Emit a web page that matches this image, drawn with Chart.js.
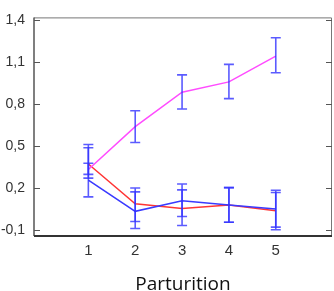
<!DOCTYPE html>
<html>
<head>
<meta charset="utf-8">
<script src="https://cdn.jsdelivr.net/npm/chart.js@4"></script>
<style>
  html, body { margin: 0; padding: 0; background: #fff; }
</style>
</head>
<body>
<canvas id="chart" width="334" height="291"></canvas>
<script>
const parturition = [1, 2, 3, 4, 5];

const magentaMean = [0.335, 0.64, 0.886, 0.96, 1.144];
const magentaLow = [0.30, 0.527, 0.766, 0.84, 1.025];
const magentaHigh = [0.513, 0.754, 1.01, 1.085, 1.275];

const redMean = [0.374, 0.09, 0.057, 0.081, 0.041];
const redLow = [0.273, -0.037, -0.065, -0.042, -0.095];
const redHigh = [0.49, 0.203, 0.189, 0.205, 0.17];

const blueMean = [0.259, 0.036, 0.111, 0.081, 0.053];
const blueLow = [0.139, -0.086, -0.001, -0.042, -0.077];
const blueHigh = [0.379, 0.175, 0.231, 0.205, 0.187];

const yTicks = [-0.1, 0.2, 0.5, 0.8, 1.1, 1.4];
const yTickLabels = ['-0,1', '0,2', '0,5', '0,8', '1,1', '1,4'];

function points(values) {
    return parturition.map((p, i) => ({ x: p, y: values[i] }));
}

// blue error bars with caps, drawn on top of the lines
const errorBars = {
    id: 'errorBars',
    afterDatasetsDraw(chart) {
        const { ctx, scales: { x, y } } = chart;
        ctx.save();
        ctx.strokeStyle = 'rgba(50, 50, 255, 0.8)';
        ctx.lineWidth = 1.6;
        chart.data.datasets.forEach(ds => {
            ds.data.forEach((p, i) => {
                const px = x.getPixelForValue(p.x);
                const top = y.getPixelForValue(ds.high[i]);
                const bot = y.getPixelForValue(ds.low[i]);
                ctx.beginPath();
                ctx.moveTo(px, top);
                ctx.lineTo(px, bot);
                ctx.moveTo(px - 5, top);
                ctx.lineTo(px + 5, top);
                ctx.moveTo(px - 5, bot);
                ctx.lineTo(px + 5, bot);
                ctx.stroke();
            });
        });
        ctx.restore();
    }
};

// box frame with inward y ticks on both sides
const frame = {
    id: 'frame',
    afterDraw(chart) {
        const { ctx, chartArea: a, scales: { y } } = chart;
        ctx.save();
        ctx.strokeStyle = '#777';
        ctx.lineWidth = 1;
        ctx.beginPath();
        ctx.moveTo(a.left, a.top + 0.5);
        ctx.lineTo(a.right - 0.5, a.top + 0.5);
        ctx.lineTo(a.right - 0.5, a.bottom);
        ctx.stroke();
        ctx.strokeStyle = '#555';
        ctx.lineWidth = 1.5;
        ctx.beginPath();
        ctx.moveTo(a.left, a.top);
        ctx.lineTo(a.left, a.bottom);
        ctx.stroke();
        ctx.strokeStyle = '#333';
        ctx.lineWidth = 2;
        ctx.beginPath();
        ctx.moveTo(a.left, a.bottom);
        ctx.lineTo(a.right, a.bottom);
        ctx.stroke();
        ctx.strokeStyle = '#555';
        ctx.lineWidth = 1;
        yTicks.forEach(v => {
            const py = Math.round(y.getPixelForValue(v)) + 0.5;
            ctx.beginPath();
            ctx.moveTo(a.left, py);
            ctx.lineTo(a.left + 6, py);
            ctx.moveTo(a.right, py);
            ctx.lineTo(a.right - 6, py);
            ctx.stroke();
        });
        ctx.restore();
    }
};

const ctx = document.getElementById('chart').getContext('2d');
const myChart = new Chart(ctx, {
    type: 'line',
    data: {
        datasets: [{
            label: 'magenta',
            data: points(magentaMean),
            low: magentaLow,
            high: magentaHigh,
            borderColor: '#ff4cff',
            borderWidth: 1.5,
            pointRadius: 0
        }, {
            label: 'blue',
            data: points(blueMean),
            low: blueLow,
            high: blueHigh,
            borderColor: '#3a3aff',
            borderWidth: 1.5,
            pointRadius: 0
        }, {
            label: 'red',
            data: points(redMean),
            low: redLow,
            high: redHigh,
            borderColor: '#ff3535',
            borderWidth: 1.5,
            pointRadius: 0
        }]
    },
    options: {
        responsive: false,
        animation: false,
        layout: {
            padding: { top: 14, right: 2, left: 0, bottom: 0 }
        },
        plugins: {
            legend: { display: false },
            tooltip: { enabled: false }
        },
        scales: {
            x: {
                type: 'linear',
                min: -0.16,
                max: 6.2,
                afterBuildTicks: s => { s.ticks = parturition.map(v => ({ value: v })); },
                afterFit: s => { s.height = 55; },
                grid: { display: false, drawTicks: false },
                border: { display: false },
                ticks: {
                    autoSkip: false,
                    maxRotation: 0,
                    padding: 6,
                    color: '#333',
                    font: { family: 'Liberation Sans', size: 15 }
                },
                title: {
                    display: true,
                    text: 'Parturition',
                    color: '#111',
                    padding: { top: 0, bottom: -5 },
                    font: { family: 'Open Sans', size: 19 }
                }
            },
            y: {
                min: -0.14,
                max: 1.42,
                afterBuildTicks: s => { s.ticks = yTicks.map(v => ({ value: v })); },
                afterFit: s => { s.width = 34; },
                grid: { display: false, drawTicks: false },
                border: { display: false },
                ticks: {
                    autoSkip: false,
                    padding: 9,
                    color: '#333',
                    font: { family: 'Liberation Sans', size: 14 },
                    callback: (v, i) => yTickLabels[i]
                }
            }
        }
    },
    plugins: [errorBars, frame]
});
</script>
</body>
</html>
